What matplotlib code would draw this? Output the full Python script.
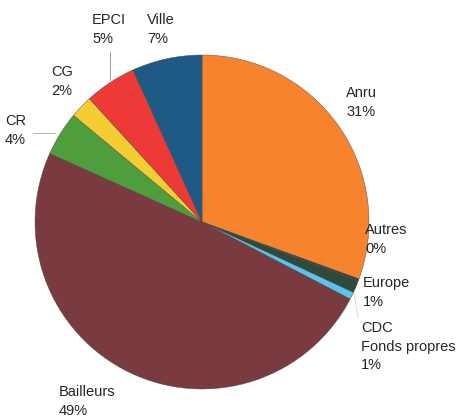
import matplotlib
matplotlib.use("Agg")
import matplotlib.pyplot as plt

categories = ["Anru", "Autres", "Europe", "CDC\nFonds propres", "Bailleurs", "CR", "CG", "EPCI", "Ville"]
values = [30.6, 0.2, 1.2, 0.7, 49.2, 4.3, 2.2, 5.0, 6.8]
colors = ["#F7832F", "#3A3F3A", "#2E4A3C", "#5CC3EE", "#7A3B40", "#4E9E3E", "#F5CC32", "#EE3A36", "#1E5A84"]

# layout (pixel coords of cap-top-left of text block)
label_pos = [(347, 88), (366, 225), (364, 278), (362, 323), (60, 387),
             (6, 116), (52, 67), (93, 15), (148, 15)]

W, H = 469, 416
fig = plt.figure(figsize=(W / 100, H / 100), dpi=100)
ax = fig.add_axes([0, 0, 1, 1])

cx, cy, r = 202, H - 222, 167
ax.pie(values, colors=colors, startangle=90, counterclock=False,
       center=(cx, cy), radius=r, frame=True,
       wedgeprops=dict(linewidth=0.3, edgecolor="#444444"))
ax.set_xlim(0, W)
ax.set_ylim(0, H)
ax.set_aspect("equal")
ax.axis("off")

total = sum(values)
for cat, v, (px, py) in zip(categories, values, label_pos):
    txt = f"{cat}\n{round(v / total * 100):.0f}%"
    ax.text(px - 1, H - py + 2, txt, ha="left", va="top", fontsize=10.5,
            family="Liberation Sans", color="#262626", linespacing=1.42)

# leader lines
ax.plot([110, 110], [H - 52, H - 80], color="#888888", lw=0.6)
ax.plot([33, 55], [H - 133, H - 133], color="#aaaaaa", lw=0.6)
ax.plot([354, 358], [H - 292, H - 318], color="#888888", lw=0.6, ls=":")

fig.savefig("out.png", dpi=100)
